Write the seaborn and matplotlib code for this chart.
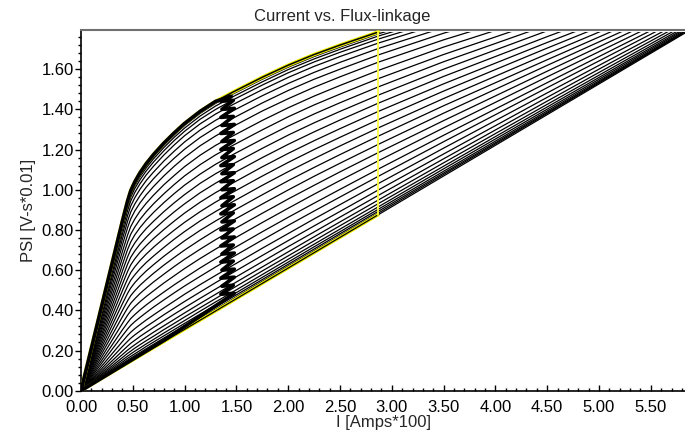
import matplotlib
matplotlib.use('Agg')
import matplotlib.pyplot as plt
import seaborn as sns
from matplotlib.patches import Rectangle
from matplotlib.ticker import MultipleLocator, FormatStrFormatter

sns.set_theme(style='white')
plt.rcParams['font.family'] = ['Liberation Sans', 'DejaVu Sans']

# ---------------- data ----------------
TITLE = 'Current vs. Flux-linkage'
X_LABEL = 'I [Amps*100]'
Y_LABEL = 'PSI [V-s*0.01]'
I_MAX = 5.83        # current range [Amps*100]
PSI_MAX = 1.783     # flux-linkage ceiling of the curves [V-s*0.01]

# current samples shared by the curves
current_grid = [0, 0.40, 0.45, 0.48, 0.52, 0.57, 0.63, 0.70, 0.80, 0.90, 1.00, 1.15,
                1.30, 1.47, 1.75, 2.00, 2.25, 2.50, 2.87, 3.50, 4.50, 5.83]

# aligned position (upper envelope)
aligned_psi = [0, 0.845, 0.945, 0.995, 1.04, 1.085, 1.13, 1.175, 1.232, 1.283, 1.33, 1.39,
               1.44, 1.487, 1.56, 1.62, 1.673, 1.72, 1.785, 1.88]

# unaligned position (lower envelope)
unaligned_I = [0, 2.87, 5.83]
unaligned_psi = [0, 0.876, 1.78]

# intermediate rotor positions, flux-linkage at current_grid
curve_01 = [0, 0.838, 0.937, 0.987, 1.031, 1.076, 1.121, 1.165, 1.222, 1.273, 1.320, 1.380, 1.430, 1.477, 1.550, 1.610, 1.663, 1.710, 1.776, 1.872]
curve_02 = [0, 0.829, 0.927, 0.976, 1.021, 1.065, 1.109, 1.154, 1.210, 1.261, 1.307, 1.367, 1.417, 1.464, 1.537, 1.598, 1.651, 1.699, 1.765, 1.862]
curve_03 = [0, 0.818, 0.914, 0.963, 1.007, 1.050, 1.094, 1.138, 1.194, 1.245, 1.291, 1.351, 1.400, 1.448, 1.521, 1.582, 1.636, 1.684, 1.750, 1.849]
curve_04 = [0, 0.802, 0.897, 0.944, 0.987, 1.030, 1.074, 1.117, 1.173, 1.223, 1.269, 1.328, 1.377, 1.425, 1.498, 1.559, 1.614, 1.663, 1.730, 1.831]
curve_05 = [0, 0.780, 0.872, 0.919, 0.961, 1.003, 1.046, 1.088, 1.143, 1.192, 1.238, 1.297, 1.346, 1.394, 1.468, 1.529, 1.584, 1.634, 1.703, 1.807]
curve_06 = [0, 0.755, 0.844, 0.889, 0.930, 0.971, 1.013, 1.055, 1.109, 1.157, 1.202, 1.260, 1.309, 1.357, 1.432, 1.494, 1.550, 1.600, 1.671, 1.779, 1.930]
curve_07 = [0, 0.726, 0.812, 0.855, 0.895, 0.935, 0.975, 1.016, 1.069, 1.117, 1.161, 1.219, 1.268, 1.316, 1.392, 1.453, 1.510, 1.562, 1.635, 1.746, 1.905]
curve_08 = [0, 0.693, 0.775, 0.817, 0.855, 0.894, 0.933, 0.973, 1.025, 1.071, 1.115, 1.172, 1.221, 1.269, 1.345, 1.408, 1.466, 1.519, 1.594, 1.710, 1.876]
curve_09 = [0, 0.661, 0.739, 0.779, 0.815, 0.853, 0.891, 0.930, 0.980, 1.026, 1.069, 1.125, 1.174, 1.222, 1.298, 1.363, 1.422, 1.476, 1.553, 1.673, 1.848]
curve_10 = [0, 0.628, 0.703, 0.740, 0.776, 0.812, 0.849, 0.887, 0.936, 0.981, 1.023, 1.078, 1.127, 1.176, 1.252, 1.317, 1.377, 1.433, 1.512, 1.637, 1.819]
curve_11 = [0, 0.596, 0.666, 0.702, 0.736, 0.771, 0.807, 0.843, 0.891, 0.935, 0.976, 1.032, 1.080, 1.129, 1.206, 1.272, 1.333, 1.390, 1.471, 1.600, 1.791]
curve_12 = [0, 0.563, 0.630, 0.664, 0.696, 0.730, 0.764, 0.800, 0.847, 0.890, 0.930, 0.985, 1.033, 1.082, 1.160, 1.226, 1.288, 1.347, 1.431, 1.564, 1.762, 2.018]
curve_13 = [0, 0.531, 0.594, 0.626, 0.657, 0.689, 0.722, 0.757, 0.802, 0.844, 0.884, 0.938, 0.986, 1.035, 1.114, 1.181, 1.244, 1.304, 1.390, 1.527, 1.733, 2.000]
curve_14 = [0, 0.498, 0.557, 0.588, 0.617, 0.648, 0.680, 0.714, 0.758, 0.799, 0.838, 0.891, 0.939, 0.989, 1.068, 1.136, 1.200, 1.261, 1.349, 1.491, 1.705, 1.983]
curve_15 = [0, 0.465, 0.521, 0.550, 0.577, 0.607, 0.638, 0.670, 0.713, 0.754, 0.792, 0.845, 0.892, 0.942, 1.022, 1.090, 1.155, 1.218, 1.308, 1.454, 1.676, 1.965]
curve_16 = [0, 0.433, 0.485, 0.511, 0.538, 0.566, 0.596, 0.627, 0.669, 0.708, 0.746, 0.798, 0.845, 0.895, 0.975, 1.045, 1.111, 1.175, 1.267, 1.418, 1.647, 1.948]
curve_17 = [0, 0.400, 0.448, 0.473, 0.498, 0.525, 0.553, 0.584, 0.625, 0.663, 0.700, 0.751, 0.799, 0.849, 0.929, 0.999, 1.067, 1.132, 1.226, 1.381, 1.619, 1.930]
curve_18 = [0, 0.368, 0.412, 0.435, 0.458, 0.484, 0.511, 0.541, 0.580, 0.618, 0.654, 0.704, 0.752, 0.802, 0.883, 0.954, 1.022, 1.089, 1.185, 1.344, 1.590, 1.913]
curve_19 = [0, 0.335, 0.376, 0.397, 0.419, 0.443, 0.469, 0.497, 0.536, 0.572, 0.608, 0.658, 0.705, 0.755, 0.837, 0.908, 0.978, 1.046, 1.144, 1.308, 1.562, 1.895]
curve_20 = [0, 0.303, 0.339, 0.359, 0.379, 0.402, 0.427, 0.454, 0.491, 0.527, 0.561, 0.611, 0.658, 0.708, 0.791, 0.863, 0.933, 1.002, 1.103, 1.271, 1.533, 1.878]
curve_21 = [0, 0.274, 0.307, 0.325, 0.344, 0.365, 0.389, 0.416, 0.452, 0.487, 0.521, 0.569, 0.616, 0.667, 0.750, 0.823, 0.894, 0.964, 1.067, 1.239, 1.508, 1.862]
curve_22 = [0, 0.245, 0.275, 0.291, 0.309, 0.329, 0.352, 0.377, 0.412, 0.446, 0.480, 0.528, 0.574, 0.625, 0.709, 0.782, 0.855, 0.926, 1.031, 1.207, 1.482, 1.846]
curve_23 = [0, 0.220, 0.246, 0.261, 0.278, 0.297, 0.319, 0.343, 0.378, 0.411, 0.444, 0.491, 0.538, 0.589, 0.673, 0.747, 0.820, 0.892, 0.999, 1.178, 1.460, 1.833]
curve_24 = [0, 0.198, 0.222, 0.236, 0.251, 0.270, 0.291, 0.315, 0.348, 0.381, 0.413, 0.460, 0.506, 0.558, 0.642, 0.717, 0.790, 0.864, 0.972, 1.154, 1.441, 1.821]
curve_25 = [0, 0.180, 0.202, 0.214, 0.229, 0.247, 0.267, 0.291, 0.323, 0.355, 0.387, 0.434, 0.480, 0.532, 0.616, 0.691, 0.766, 0.840, 0.949, 1.134, 1.425, 1.811]
curve_26 = [0, 0.165, 0.186, 0.197, 0.212, 0.229, 0.249, 0.271, 0.304, 0.335, 0.367, 0.413, 0.459, 0.511, 0.596, 0.671, 0.746, 0.821, 0.931, 1.117, 1.412, 1.803]
curve_27 = [0, 0.153, 0.172, 0.183, 0.197, 0.213, 0.233, 0.255, 0.287, 0.318, 0.349, 0.396, 0.442, 0.493, 0.578, 0.654, 0.729, 0.804, 0.915, 1.104, 1.401, 1.797]
curve_28 = [0, 0.143, 0.161, 0.171, 0.184, 0.200, 0.220, 0.242, 0.273, 0.304, 0.335, 0.381, 0.427, 0.479, 0.564, 0.640, 0.716, 0.791, 0.903, 1.092, 1.392, 1.791]
curve_29 = [0, 0.135, 0.152, 0.162, 0.175, 0.190, 0.209, 0.231, 0.262, 0.293, 0.324, 0.370, 0.416, 0.468, 0.553, 0.629, 0.705, 0.781, 0.893, 1.083, 1.385, 1.787]
curve_30 = [0, 0.129, 0.145, 0.154, 0.167, 0.182, 0.201, 0.222, 0.253, 0.284, 0.315, 0.360, 0.406, 0.458, 0.544, 0.620, 0.696, 0.772, 0.884, 1.076, 1.380, 1.784]

# operating trajectory with current chopping near I = 1.4
chop_I = [0, 0.80, 1.35,
          1.48, 1.35, 1.47, 1.36, 1.48, 1.35, 1.48, 1.36, 1.47, 1.35, 1.48, 1.36, 1.47, 1.35,
          1.48, 1.36, 1.47, 1.35, 1.48, 1.36, 1.47, 1.35, 1.48, 1.36, 1.47, 1.35, 1.48, 1.36,
          1.47, 1.35, 1.48, 1.36, 1.47, 1.35, 1.48, 1.36, 1.47, 1.35, 1.48, 1.36, 1.47, 1.35,
          1.48, 1.36, 1.47, 1.35, 1.48, 1.36, 1.47, 1.35,
          1.45, 1.30, 1.15, 1.00, 0.90, 0.80, 0.70, 0.63, 0.57, 0.52, 0.48, 0.45, 0.40, 0]
chop_psi = [0, 0.25, 0.44,
            0.485, 0.48, 0.525, 0.52, 0.565, 0.56, 0.605, 0.60, 0.645, 0.64, 0.685, 0.68, 0.725, 0.72,
            0.765, 0.76, 0.805, 0.80, 0.845, 0.84, 0.885, 0.88, 0.925, 0.92, 0.965, 0.96, 1.005, 1.00,
            1.045, 1.04, 1.085, 1.08, 1.125, 1.12, 1.165, 1.16, 1.205, 1.20, 1.245, 1.24, 1.285, 1.28,
            1.325, 1.32, 1.365, 1.36, 1.405, 1.40, 1.445, 1.44,
            1.465, 1.44, 1.39, 1.33, 1.283, 1.232, 1.175, 1.13, 1.085, 1.04, 0.995, 0.945, 0.845, 0]

# boundary of the marked operating region
box_I = [2.87, 2.87]
box_psi = [0.876, 1.785]

curves = [curve_01, curve_02, curve_03, curve_04, curve_05, curve_06, curve_07, curve_08,
          curve_09, curve_10, curve_11, curve_12, curve_13, curve_14, curve_15, curve_16,
          curve_17, curve_18, curve_19, curve_20, curve_21, curve_22, curve_23, curve_24,
          curve_25, curve_26, curve_27, curve_28, curve_29, curve_30]

# ---------------- drawing ----------------
FS = 12
fig = plt.figure(figsize=(6.85, 4.40), dpi=100)
ax = fig.add_axes([81/685, 49.3/440, 604/685, 360.7/440])


def clipped(line):
    rect = Rectangle((0, 0), I_MAX, PSI_MAX, transform=ax.transData)
    line.set_clip_path(rect)
    return line


for psi in curves:
    sns.lineplot(x=current_grid[:len(psi)], y=psi, ax=ax, color='black', lw=0.9,
                 sort=False, estimator=None)
    clipped(ax.lines[-1])

n_al = len(aligned_psi)
ax.plot(current_grid[:n_al - 1], aligned_psi[:-1], color='#f0f000', lw=2.6, zorder=3)
ax.plot(unaligned_I[:2], unaligned_psi[:2], color='#f0f000', lw=2.4, zorder=3)
clipped(ax.plot(current_grid[:n_al], aligned_psi, color='black', lw=1.1, zorder=4)[0])
ax.plot(unaligned_I, unaligned_psi, color='black', lw=0.9, zorder=4)
ax.plot(chop_I, chop_psi, color='black', lw=2.6, zorder=4)
ax.plot(box_I, box_psi, color='#ffff40', lw=1.3, zorder=5)

ax.set_xlim(0, I_MAX)
ax.set_ylim(0, 1.795)
ax.set(xlabel='', ylabel='')
ax.xaxis.set_major_locator(MultipleLocator(0.5))
ax.xaxis.set_minor_locator(MultipleLocator(0.1))
ax.yaxis.set_major_locator(MultipleLocator(0.2))
ax.yaxis.set_minor_locator(MultipleLocator(0.04))
ax.xaxis.set_major_formatter(FormatStrFormatter('%.2f'))
ax.yaxis.set_major_formatter(FormatStrFormatter('%.2f'))
ax.tick_params(axis='x', which='both', direction='in', bottom=True, length=4, width=1,
               labelsize=FS, pad=7, colors='black')
ax.tick_params(axis='x', which='minor', length=2.5)
ax.tick_params(axis='y', which='both', direction='out', left=True, length=4, width=1,
               labelsize=FS, pad=1, colors='black')
ax.tick_params(axis='y', which='minor', length=2.5)
for s in ['left', 'bottom']:
    ax.spines[s].set_color('black')
    ax.spines[s].set_linewidth(1.2)
ax.spines['top'].set_color('#707070')
ax.spines['top'].set_linewidth(1.5)
ax.spines['right'].set_visible(False)
ax.set_xlabel(X_LABEL, fontsize=FS, labelpad=0)
ax.set_ylabel(Y_LABEL, fontsize=FS, labelpad=4)
fig.text(0.5, 1 - 17/440, TITLE, ha='center', va='center', fontsize=FS)
fig.savefig('out.png', dpi=100)
